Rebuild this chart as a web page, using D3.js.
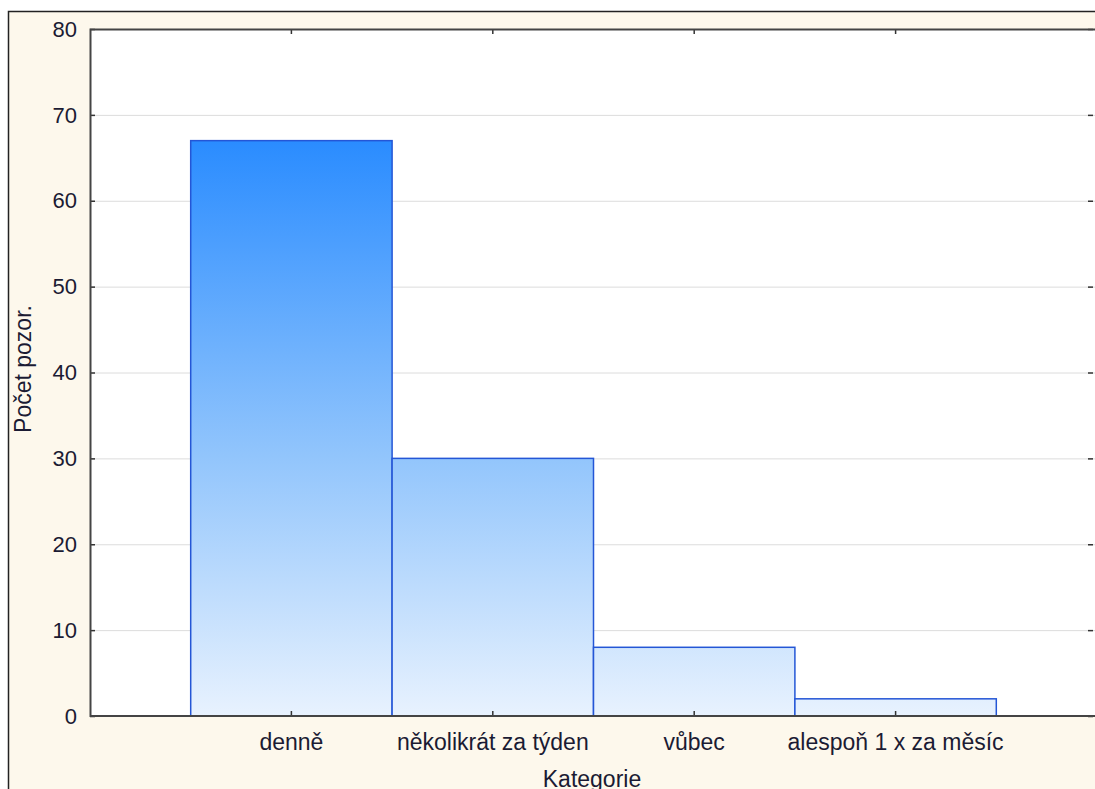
<!DOCTYPE html>
<html>
<head>
<meta charset="utf-8">
<script src="https://cdn.jsdelivr.net/npm/d3@7"></script>
<style>
  html, body { margin: 0; padding: 0; background: #fff; }
  svg { display: block; }
</style>
</head>
<body>
<svg id="chart"></svg>
<script>
const categories = ['denně', 'několikrát za týden', 'vůbec', 'alespoň 1 x za měsíc'];
const counts = [67, 30, 8, 2];
const yTicks = [0, 10, 20, 30, 40, 50, 60, 70, 80];

const width = 1095;
const height = 789;
const margin = { top: 29, right: -2, bottom: 73, left: 90 };
const plotW = width - margin.left - margin.right;
const plotH = height - margin.top - margin.bottom;

const svg = d3.select('#chart')
  .attr('width', width)
  .attr('height', height)
  .style('font-family', 'Arial, "Liberation Sans", sans-serif');

// outer frame
svg.append('rect')
  .attr('x', 0).attr('y', 0)
  .attr('width', width).attr('height', height)
  .attr('fill', '#fff');
svg.append('rect')
  .attr('x', 8.5).attr('y', 11.5)
  .attr('width', width).attr('height', height)
  .attr('fill', '#fdf8ec')
  .attr('stroke', '#222')
  .attr('stroke-width', 1.5);

const xScale = d3.scaleBand()
  .domain(categories)
  .range([0, plotW])
  .paddingInner(0)
  .paddingOuter(0.5);

const yScale = d3.scaleLinear()
  .domain([0, 80])
  .range([plotH, 0]);

const defs = svg.append('defs');
const grad = defs.append('linearGradient')
  .attr('id', 'barGrad')
  .attr('gradientUnits', 'userSpaceOnUse')
  .attr('x1', 0).attr('x2', 0)
  .attr('y1', yScale(67)).attr('y2', yScale(0));
grad.append('stop').attr('offset', '0%').attr('stop-color', '#2a8cff');
grad.append('stop').attr('offset', '55%').attr('stop-color', '#92c5fc');
grad.append('stop').attr('offset', '100%').attr('stop-color', '#e8f2fe');

const g = svg.append('g')
  .attr('transform', `translate(${margin.left},${margin.top})`);

g.append('rect')
  .attr('width', plotW).attr('height', plotH)
  .attr('fill', '#fff');

// gridlines
g.append('g')
  .selectAll('line')
  .data(yTicks.filter(d => d > 0 && d < 80))
  .enter()
  .append('line')
  .attr('x1', 0).attr('x2', plotW)
  .attr('y1', d => yScale(d) + 0.5).attr('y2', d => yScale(d) + 0.5)
  .attr('stroke', '#dcdcdc')
  .attr('stroke-width', 1);

// bars
g.append('g')
  .selectAll('rect')
  .data(counts)
  .enter()
  .append('rect')
  .attr('x', (d, i) => xScale(categories[i]))
  .attr('y', d => yScale(d))
  .attr('width', xScale.bandwidth())
  .attr('height', d => plotH - yScale(d))
  .attr('fill', 'url(#barGrad)')
  .attr('stroke', '#2456d6')
  .attr('stroke-width', 1.5);

// axes, ticks pointing inward
const leftAxis = d3.axisRight(yScale).tickValues(yTicks).tickSize(5).tickFormat('');
const rightAxis = d3.axisLeft(yScale).tickValues(yTicks).tickSize(5).tickFormat('');
const bottomAxis = d3.axisTop(xScale).tickSize(5).tickFormat('');
const topAxis = d3.axisBottom(xScale).tickSize(5).tickFormat('');

g.append('g').call(leftAxis);
g.append('g').attr('transform', `translate(${plotW - 4},0)`).call(rightAxis);
g.append('g').attr('transform', `translate(0,${plotH})`).call(bottomAxis);
g.append('g').call(topAxis);
g.selectAll('.domain').remove();
g.selectAll('.tick line').attr('stroke', '#333').attr('stroke-width', 1.5);

// plot border
g.append('path')
  .attr('d', `M${plotW + 10},0.5H0.5V${plotH}H${plotW + 10}`)
  .attr('fill', 'none')
  .attr('stroke', '#444')
  .attr('stroke-width', 2);

// tick labels
g.append('g')
  .selectAll('text')
  .data(yTicks)
  .enter()
  .append('text')
  .attr('x', -13)
  .attr('y', d => yScale(d))
  .attr('dy', '0.35em')
  .attr('text-anchor', 'end')
  .attr('font-size', 22)
  .attr('fill', '#1b1b33')
  .text(d => d);

g.append('g')
  .selectAll('text')
  .data(categories)
  .enter()
  .append('text')
  .attr('x', d => xScale(d) + xScale.bandwidth() / 2)
  .attr('y', plotH + 34)
  .attr('text-anchor', 'middle')
  .attr('font-size', 23)
  .attr('fill', '#1b1b33')
  .text(d => d);

// axis titles
svg.append('text')
  .attr('x', 592)
  .attr('y', 787)
  .attr('text-anchor', 'middle')
  .attr('font-size', 23)
  .attr('fill', '#1b1b33')
  .text('Kategorie');

svg.append('text')
  .attr('transform', `translate(31,369) rotate(-90)`)
  .attr('text-anchor', 'middle')
  .attr('font-size', 23)
  .attr('fill', '#1b1b33')
  .text('Počet pozor.');
</script>
</body>
</html>
